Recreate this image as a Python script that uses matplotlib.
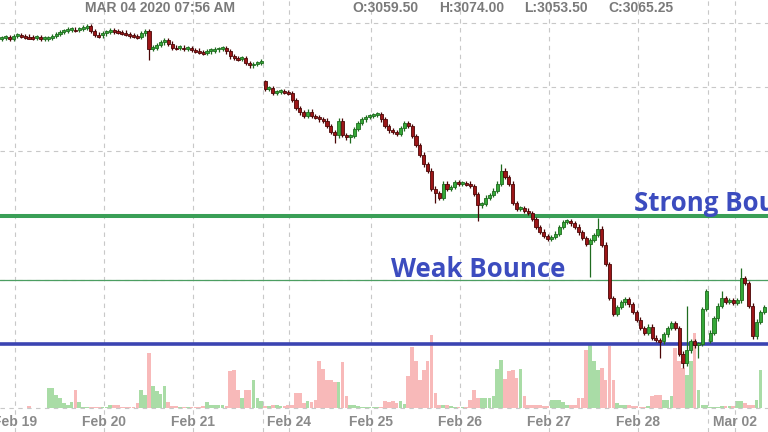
import numpy as np
import matplotlib.pyplot as plt

# hourly ES futures bars, Feb 19 - Mar 02 2020 (closes)
closes = [
    3377, 3378, 3376, 3380, 3381, 3380, 3379, 3378, 3377, 3378,
    3376, 3376, 3377, 3380, 3383, 3386, 3388, 3390, 3390, 3389,
    3391, 3393, 3395, 3388, 3382, 3381, 3384, 3386, 3389, 3387,
    3386, 3385, 3383, 3381, 3380, 3379, 3384, 3387, 3360, 3362,
    3366, 3370, 3373, 3368, 3362, 3361, 3362, 3360, 3361, 3358,
    3357, 3355, 3354, 3356, 3357, 3359, 3360, 3361, 3356, 3348,
    3346, 3344, 3346, 3338, 3334, 3336, 3338, 3341,
    # Sunday open
    3298, 3299, 3291, 3293, 3294, 3293, 3291, 3280, 3268, 3261,
    3256, 3262, 3255, 3254, 3250, 3248, 3240, 3230, 3225, 3248,
    3226, 3222, 3224, 3235, 3244, 3250, 3254, 3255, 3257, 3258,
    3250, 3240, 3233, 3230, 3228, 3236, 3244, 3240, 3224, 3210,
    3195, 3180, 3170, 3142, 3135, 3128, 3150, 3142, 3145, 3152,
    3150, 3151, 3150, 3146, 3134, 3116, 3118, 3128, 3132, 3139,
    3150, 3170, 3160, 3150, 3120, 3111, 3112, 3108, 3104, 3095,
    3082, 3075, 3068, 3064, 3067, 3072, 3082, 3090, 3092, 3088,
    3083, 3074, 3065, 3056, 3062, 3070, 3080, 3055, 3025, 2972,
    2947, 2958, 2965, 2970, 2962, 2950, 2938, 2925, 2918, 2927,
    2910, 2906, 2904, 2915, 2925, 2933, 2925, 2885, 2870, 2890,
    2905, 2898, 2900, 2955, 2983,
    # Sunday open
    2918, 2940, 2960, 2972, 2966, 2968, 2964, 2968, 3003, 2995,
    2960, 2912, 2935, 2950, 2958,
]
first_open = 3376
session_opens = {68: 3310, 183: 2905}   # gaps after the weekends

# long wicks that stand out: bar -> (high, low)
wick_extremes = {
    38: (None, 3342), 68: (3312, None), 86: (None, 3214), 90: (None, 3214),
    112: (None, 3119), 123: (None, 3092), 129: (3181, None),
    152: (None, 3004), 154: (3097, None), 170: (None, 2878),
    176: (None, 2862), 177: (2959, None), 180: (None, 2878),
    186: (2983, None), 191: (3019, None),
}

# volume in thousands of contracts
volumes = [
    1, 1, 1, 1, 1, 1, 1, 4, 1, 1,
    1, 1, 40, 40, 26, 20, 10, 6, 12, 36,
    12, 3, 3, 2, 2, 2, 2, 3, 6, 6,
    6, 2, 2, 2, 2, 10, 36, 26, 110, 44,
    34, 28, 44, 12, 4, 4, 2, 2, 2, 2,
    2, 2, 4, 12, 6, 6, 6, 6, 4, 74,
    76, 36, 20, 36, 36, 56, 20, 14,
    4, 4, 6, 6, 4, 4, 6, 6, 30, 30,
    10, 14, 12, 16, 94, 78, 56, 56, 52, 52,
    92, 24, 6, 6, 4, 2, 2, 2, 2, 2,
    2, 14, 12, 14, 10, 14, 8, 64, 122, 94,
    56, 76, 94, 146, 30, 6, 6, 6, 4, 2,
    2, 2, 2, 16, 36, 20, 20, 20, 20, 24,
    78, 96, 58, 74, 76, 60, 78, 24, 6, 6,
    6, 6, 4, 4, 16, 16, 16, 12, 6, 6,
    6, 20, 20, 116, 126, 94, 76, 80, 56, 124,
    56, 10, 6, 6, 6, 4, 4, 2, 2, 4,
    24, 26, 26, 16, 16, 24, 120, 94, 80, 66,
    94, 150, 36, 6, 6,
    2, 2, 2, 4, 4, 4, 4, 14, 14, 10,
    6, 6, 16, 76,
]

day_labels = ["Feb 19", "Feb 20", "Feb 21", "Feb 24", "Feb 25",
              "Feb 26", "Feb 27", "Feb 28", "Mar 02"]
day_pos = [3.4, 26.4, 49.4, 74.2, 95.4, 118.4, 141.4, 164.4, 189.4]
weekend_pos = [67.5, 182.5]

levels = {"strong": 3100, "weak": 3000, "support": 2900}

# build OHLC
n = len(closes)
x = np.arange(n)
c = np.array(closes, dtype=float)
o = np.empty(n)
o[0] = first_open
o[1:] = c[:-1]
for k, v in session_opens.items():
    o[k] = v
hi = np.maximum(o, c) + 3.5
lo = np.minimum(o, c) - 3.5
for k, (h, l) in wick_extremes.items():
    if h is not None:
        hi[k] = h
    if l is not None:
        lo[k] = l
up = c >= o
vol = np.array(volumes[:n] + [0] * (n - len(volumes)))

fig = plt.figure(figsize=(7.68, 4.32), dpi=100)

# volume panel underneath the price axes
axv = fig.add_axes([0, 0, 1, 1])
axv.bar(x, vol, width=0.95, color=np.where(up, "#a9dca6", "#f8b9b9"),
        linewidth=0, zorder=1)
axv.set_xlim(-0.5, n - 0.04)
axv.set_ylim(-48, 816)
axv.axis("off")

ax = fig.add_axes([0, 0, 1, 1])
ax.set_facecolor("none")
ax.set_xlim(-0.5, n - 0.04)
ax.set_ylim(2763, 3436)

# dashed grid
for p in day_pos + weekend_pos:
    ax.axvline(p, color="#c8c8c8", lw=0.8, ls=(0, (4, 4)), zorder=0)
for y in range(2800, 3401, 100):
    ax.axhline(y, color="#c8c8c8", lw=0.8, ls=(0, (4, 4)), zorder=0)

# bounce levels
ax.axhline(levels["strong"], color="#3a9f57", lw=2.9, zorder=2)
ax.axhline(levels["weak"], color="#4c9e62", lw=0.9, zorder=2)
ax.axhline(levels["support"], color="#3b44b2", lw=2.6, zorder=2)

# candles
ax.vlines(x, lo, hi, colors=np.where(up, "#1f6b1f", "#4a0606"), lw=0.9, zorder=3)
body = np.where(np.abs(c - o) < 3, np.where(up, 3, -3), c - o)
ax.bar(x, body, bottom=o, width=0.8,
       color=np.where(up, "#35a838", "#9c1517"),
       edgecolor=np.where(up, "#1d6a1d", "#4a0606"), linewidth=0.6, zorder=4)

ax.axis("off")

# date labels along the bottom
for lab, p in zip(day_labels, day_pos):
    ax.text(p, 0.024, lab, transform=ax.get_xaxis_transform(), ha="center",
            va="center", fontsize=10, fontweight="bold", color="#8a8a8a",
            family="Liberation Sans")

# header
fig.text(160 / 768, 1 - 8.5 / 432, "MAR 04 2020 07:56 AM", ha="center",
         va="center", fontsize=10, fontweight="bold", color="#7a7a7a",
         family="Liberation Sans")
for txt, px in [("O:3059.50", 352), ("H:3074.00", 439),
                ("L:3053.50", 524), ("C:3065.25", 608)]:
    fig.text(px / 768, 1 - 8.5 / 432, txt, ha="left", va="center",
             fontsize=10, fontweight="bold", color="#7a7a7a",
             family="Liberation Sans")

# annotations
ax.text(634 / 768, 1 - 211 / 432, "Strong Bounce", transform=ax.transAxes,
        ha="left", va="baseline", fontsize=18.6, fontweight="bold",
        color="#3c4cbf", family="Open Sans", clip_on=True)
ax.text(391 / 768, 1 - 277 / 432, "Weak Bounce", transform=ax.transAxes,
        ha="left", va="baseline", fontsize=18.6, fontweight="bold",
        color="#3c4cbf", family="Open Sans")

fig.savefig("out.png", dpi=100)
